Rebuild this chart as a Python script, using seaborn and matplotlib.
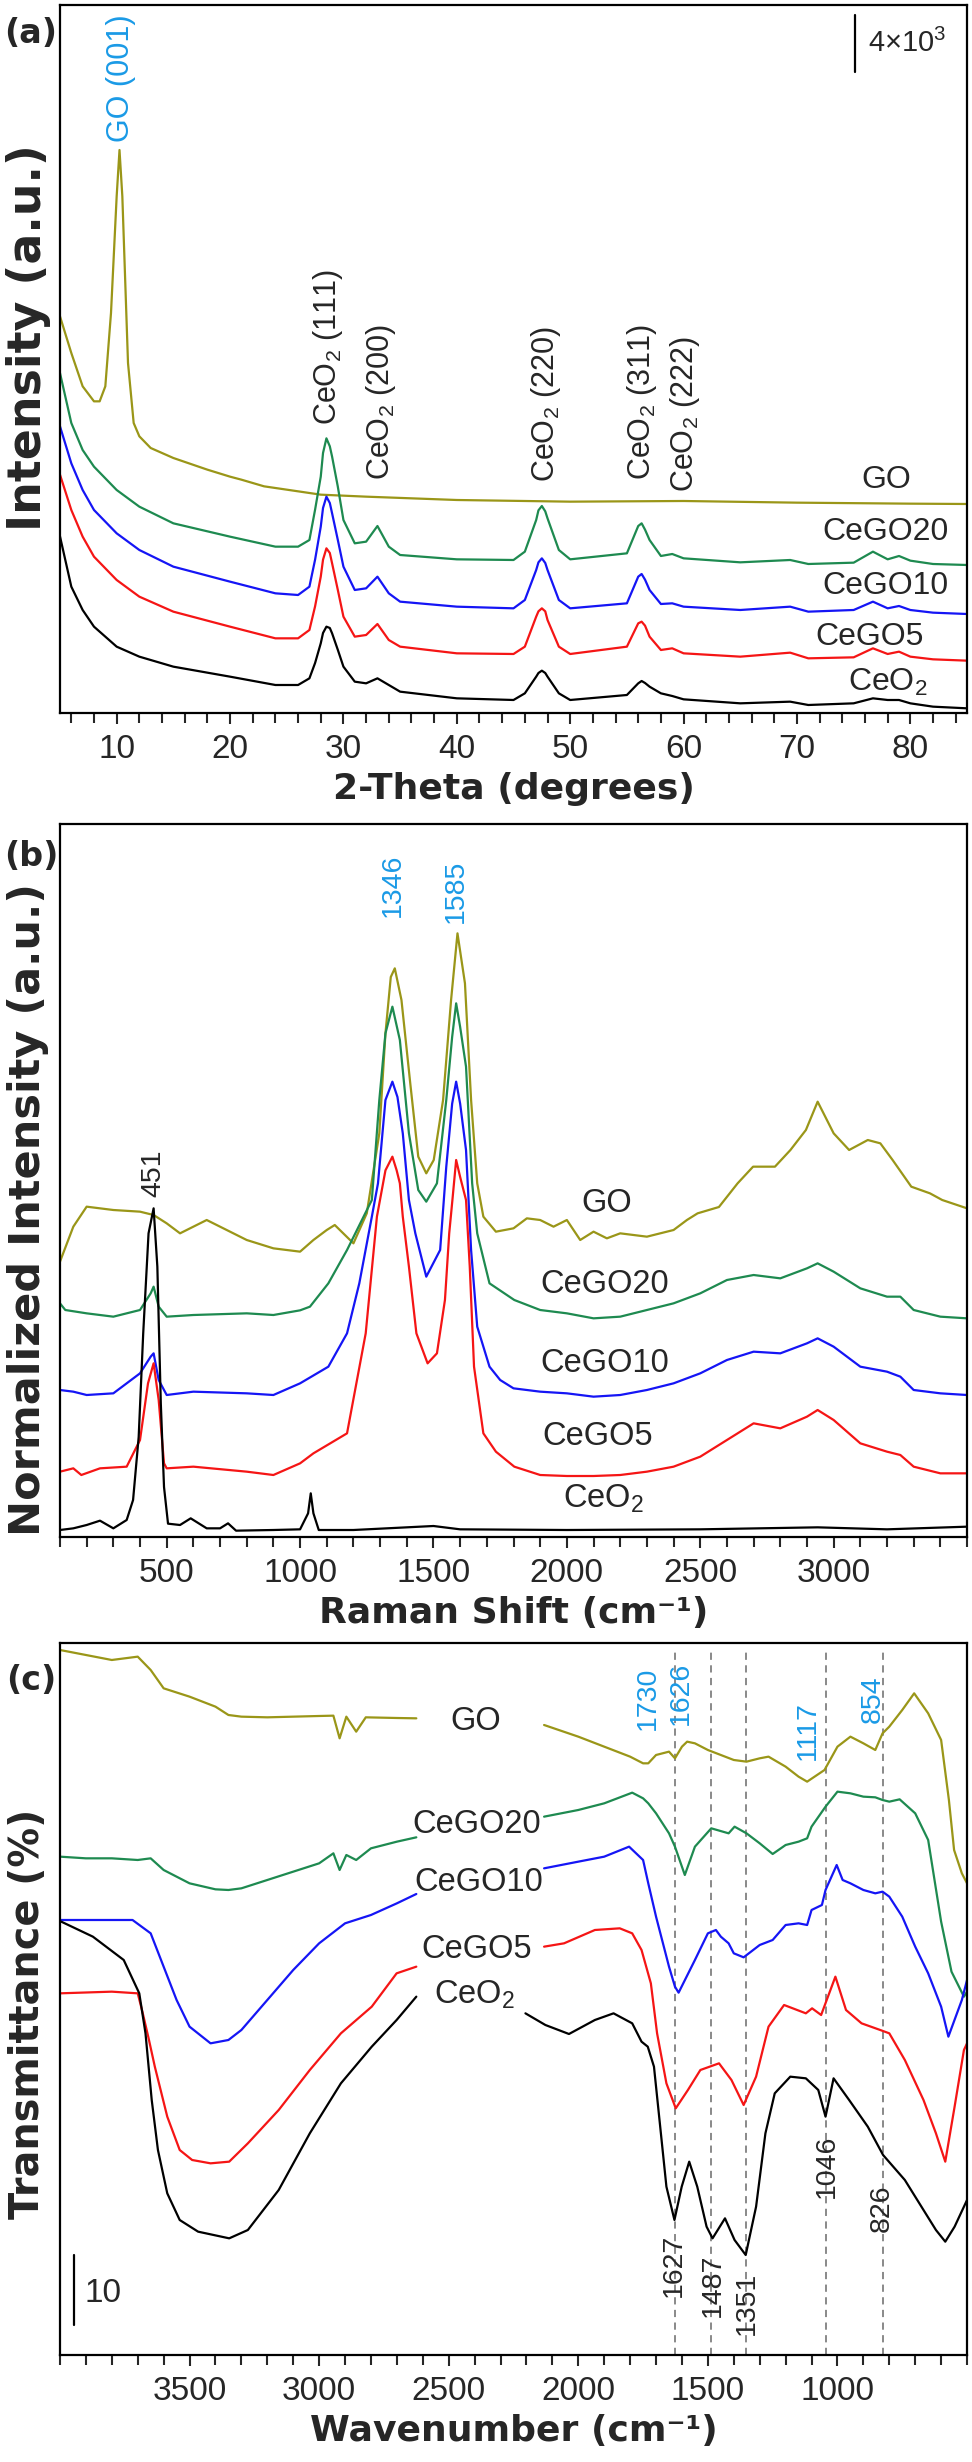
import matplotlib
matplotlib.use('Agg')
import matplotlib.pyplot as plt
from matplotlib.ticker import MultipleLocator, FixedLocator
import pandas as pd
import seaborn as sns

# sample names / colours
samples = ['GO', 'CeGO20', 'CeGO10', 'CeGO5', 'CeO2']
colors = {'GO': '#9a9618', 'CeGO20': '#1e8a50', 'CeGO10': '#1515f5',
          'CeGO5': '#f51515', 'CeO2': '#000000'}
label_blue = '#1a9ae6'

# ---- (a) XRD, intensity in a.u. ----
xrd_theta = [5, 6, 7, 8, 10, 12, 15, 20, 24, 26, 27, 27.5, 28, 28.2, 28.5, 28.8, 29, 29.5, 30, 31, 32, 33,
             34, 35, 40, 45, 46, 47, 47.2, 47.5, 47.8, 48, 49, 50, 55, 56, 56.3, 56.6, 57, 58, 59, 60, 65,
             69.4, 71, 75, 76.7, 78, 79, 80, 82, 85]
xrd_ceo2 = [530, 379, 309, 259, 199, 169, 139, 109, 84, 84, 104, 150, 209, 240, 259, 255, 239, 190, 139, 94, 89, 104,
            84, 64, 44, 39, 59, 109, 120, 127, 120, 109, 59, 39, 54, 89, 96, 90, 79, 59, 51, 41, 29,
            34, 24, 29, 44, 39, 39, 29, 19, 14]
xrd_cego5 = [715, 609, 529, 469, 399, 349, 304, 259, 224, 224, 249, 320, 409, 460, 494, 480, 449, 370, 289, 229, 234, 267,
             219, 199, 179, 177, 199, 289, 305, 314, 305, 279, 199, 177, 199, 269, 274, 262, 229, 189, 194, 179, 169,
             181, 164, 167, 194, 177, 184, 169, 161, 157]
xrd_cego10 = [860, 749, 669, 609, 539, 489, 439, 394, 359, 354, 379, 460, 559, 615, 649, 630, 599, 520, 439, 369, 374, 409,
              359, 334, 319, 314, 339, 429, 452, 464, 450, 429, 339, 314, 329, 409, 417, 400, 369, 327, 329, 319, 309,
              319, 304, 309, 334, 314, 321, 309, 301, 297]
xrd_cego20 = [1020, 870, 789, 739, 669, 619, 569, 529, 499, 499, 519, 610, 709, 780, 824, 800, 769, 680, 579, 509, 514, 561,
              499, 474, 461, 459, 484, 579, 608, 621, 605, 584, 489, 461, 479, 561, 569, 550, 519, 471, 477, 464, 452,
              459, 447, 451, 484, 461, 471, 457, 447, 444]
xrd_go_theta = [5, 6, 7, 8, 8.5, 9, 9.5, 10, 10.25, 10.5, 11, 11.5, 12, 13, 15, 18, 20, 21, 23, 25,
                28, 32, 40, 50, 60, 70, 80, 85]
xrd_go = [1190, 1080, 980, 935, 935, 980, 1200, 1550, 1689, 1550, 1050, 870, 830, 795, 765, 730, 709, 700, 680, 670,
          655, 649, 639, 634, 636, 631, 628, 627]

# ---- (b) Raman, normalized intensity (a.u.) ----
raman_ceo2_x = [100, 150, 200, 250, 300, 350, 374, 395, 412, 432, 451, 465, 478, 490, 505, 550, 590, 650, 700, 730,
                760, 900, 1000, 1030, 1040, 1050, 1070, 1200, 1500, 1600, 2000, 2500, 2940, 3200, 3500]
raman_ceo2_y = [21, 26, 36, 49, 26, 51, 111, 300, 611, 911, 986, 811, 400, 150, 40, 36, 56, 26, 26, 41,
                19, 21, 23, 71, 131, 71, 21, 21, 33, 23, 21, 23, 29, 23, 31]
raman_cego5_x = [100, 150, 180, 250, 350, 400, 430, 451, 470, 490, 500, 600, 800, 900, 1000, 1050, 1176, 1246,
                 1288, 1320, 1346, 1362, 1374, 1385, 1408, 1436, 1478, 1513, 1543, 1559, 1571, 1585, 1600, 1622,
                 1636, 1652, 1687, 1734, 1803, 1900, 2000, 2100, 2200, 2300, 2400, 2500, 2600, 2700, 2800, 2900,
                 2940, 3000, 3100, 3200, 3250, 3300, 3400, 3500]
raman_cego5_y = [196, 206, 186, 206, 211, 291, 461, 521, 411, 221, 206, 211, 196, 186, 221, 251, 311, 611,
                 961, 1100, 1141, 1100, 1061, 961, 811, 611, 521, 551, 711, 911, 1011, 1131, 1080, 1011,
                 811, 511, 311, 256, 211, 186, 183, 183, 186, 196, 211, 241, 291, 341, 326, 361,
                 381, 351, 281, 256, 246, 211, 191, 191]
raman_cego10_x = [100, 150, 200, 300, 400, 440, 451, 470, 500, 600, 800, 900, 1000, 1106, 1176, 1222, 1269, 1292,
                  1320, 1346, 1365, 1385, 1408, 1432, 1473, 1525, 1548, 1570, 1585, 1600, 1622, 1641, 1664, 1710,
                  1750, 1800, 1900, 2000, 2100, 2200, 2300, 2400, 2500, 2600, 2700, 2800, 2900, 2940, 3000, 3100,
                  3200, 3250, 3300, 3400, 3500]
raman_cego10_y = [441, 436, 426, 431, 491, 541, 551, 471, 426, 436, 431, 426, 461, 511, 611, 761, 961, 1061,
                  1311, 1366, 1320, 1211, 1011, 911, 781, 861, 1111, 1300, 1366, 1300, 1161, 861, 631, 511,
                  471, 446, 436, 431, 421, 426, 441, 461, 491, 531, 556, 551, 581, 596, 571, 511,
                  496, 481, 441, 431, 426]
raman_cego20_x = [100, 120, 200, 300, 400, 440, 451, 470, 500, 600, 800, 900, 1000, 1037, 1106, 1176, 1269, 1297,
                  1320, 1346, 1374, 1408, 1443, 1473, 1513, 1548, 1570, 1585, 1600, 1622, 1645, 1664, 1710, 1803,
                  1900, 2000, 2100, 2200, 2300, 2400, 2500, 2600, 2700, 2800, 2900, 2940, 3000, 3100, 3200, 3250,
                  3300, 3400, 3500]
raman_cego20_y = [701, 681, 671, 661, 681, 731, 751, 691, 661, 666, 671, 666, 680, 691, 761, 861, 1011, 1311,
                  1511, 1591, 1491, 1211, 1041, 1006, 1061, 1311, 1500, 1601, 1530, 1411, 1061, 911, 761, 711,
                  681, 671, 656, 661, 681, 701, 731, 771, 786, 776, 806, 821, 796, 746, 721, 721,
                  681, 661, 656]
raman_go_x = [100, 150, 200, 300, 400, 451, 500, 550, 600, 650, 700, 750, 800, 900, 1000, 1050, 1100, 1130, 1200,
              1250, 1297, 1320, 1340, 1355, 1380, 1413, 1443, 1473, 1501, 1536, 1566, 1590, 1618, 1641, 1664, 1687,
              1734, 1800, 1850, 1900, 1950, 2000, 2050, 2100, 2150, 2200, 2300, 2400, 2450, 2490, 2570, 2640,
              2698, 2780, 2838, 2896, 2940, 3000, 3058, 3128, 3175, 3221, 3291, 3361, 3407, 3500]
raman_go_y = [826, 931, 991, 981, 976, 966, 941, 911, 931, 951, 931, 911, 891, 866, 856, 891, 921, 936, 881,
              971, 1211, 1511, 1680, 1706, 1611, 1361, 1141, 1091, 1131, 1311, 1611, 1811, 1661, 1311, 1061, 961,
              916, 926, 956, 951, 931, 951, 891, 916, 896, 911, 901, 921, 951, 971, 990, 1061,
              1111, 1111, 1161, 1221, 1306, 1211, 1161, 1191, 1181, 1131, 1051, 1031, 1011, 986]

# ---- (c) FTIR, transmittance (a.u.), two segments each (gap behind labels) ----
ftir_go_x1 = [4000, 3900, 3800, 3700, 3650, 3600, 3500, 3400, 3350, 3300, 3200, 3000, 2945, 2921, 2895, 2857,
              2820, 2700, 2625]
ftir_go_y1 = [2115, 2100, 2085, 2095, 2055, 2000, 1975, 1945, 1920, 1915, 1913, 1917, 1918, 1850, 1915, 1870,
              1913, 1911, 1910]
ftir_go_x2 = [2132, 2000, 1900, 1800, 1750, 1730, 1700, 1650, 1627, 1600, 1580, 1550, 1500, 1450, 1400, 1351,
              1300, 1266, 1200, 1150, 1117, 1050, 1000, 950, 900, 854, 826, 800, 750, 704, 650, 600, 570, 550,
              520, 500]
ftir_go_y2 = [1890, 1855, 1825, 1795, 1775, 1775, 1800, 1810, 1790, 1825, 1840, 1835, 1815, 1800, 1785, 1780,
              1790, 1795, 1765, 1735, 1720, 1755, 1825, 1855, 1835, 1815, 1865, 1885, 1935, 1985, 1925, 1845,
              1665, 1515, 1445, 1415]
ftir_cego20_x1 = [4000, 3900, 3800, 3700, 3650, 3600, 3500, 3400, 3350, 3300, 3200, 3000, 2945, 2921, 2895,
                  2857, 2800, 2700, 2625]
ftir_cego20_y1 = [1495, 1490, 1490, 1485, 1490, 1455, 1415, 1397, 1395, 1400, 1425, 1475, 1505, 1455, 1500,
                  1485, 1520, 1540, 1553]
ftir_cego20_x2 = [2132, 2000, 1900, 1792, 1750, 1730, 1700, 1650, 1627, 1589, 1550, 1487, 1420, 1397, 1351,
                  1300, 1250, 1200, 1150, 1117, 1100, 1046, 1000, 950, 900, 854, 826, 800, 760, 700, 650, 600,
                  560, 512, 500]
ftir_cego20_y2 = [1615, 1635, 1655, 1687, 1670, 1655, 1625, 1565, 1525, 1440, 1525, 1580, 1565, 1585, 1565,
                  1535, 1503, 1530, 1540, 1550, 1585, 1645, 1690, 1685, 1675, 1673, 1665, 1660, 1667, 1625, 1545,
                  1300, 1150, 1075, 1090]
ftir_cego10_x1 = [4000, 3720, 3650, 3600, 3550, 3500, 3419, 3350, 3300, 3200, 3100, 3000, 2900, 2800, 2700, 2625]
ftir_cego10_y1 = [1305, 1305, 1265, 1165, 1065, 985, 935, 945, 975, 1065, 1155, 1235, 1295, 1320, 1355, 1383]
ftir_cego10_x2 = [2132, 2000, 1900, 1804, 1750, 1730, 1700, 1650, 1627, 1613, 1550, 1500, 1469, 1450, 1420,
                  1400, 1362, 1300, 1250, 1200, 1150, 1117, 1100, 1060, 1046, 1003, 980, 950, 900, 854, 826,
                  800, 750, 700, 650, 600, 572, 520, 500]
ftir_cego10_y2 = [1460, 1480, 1495, 1525, 1485, 1415, 1315, 1165, 1105, 1087, 1185, 1265, 1275, 1255, 1235,
                  1205, 1193, 1230, 1245, 1290, 1295, 1290, 1335, 1350, 1395, 1470, 1425, 1415, 1395, 1385, 1390,
                  1375, 1315, 1225, 1145, 1045, 955, 1065, 1125]
ftir_cego5_x1 = [4000, 3800, 3700, 3682, 3658, 3634, 3610, 3586, 3538, 3490, 3419, 3347, 3275, 3156, 3036,
                 2916, 2797, 2701, 2625]
ftir_cego5_y1 = [1085, 1090, 1085, 1030, 950, 865, 790, 715, 615, 585, 575, 580, 635, 735, 855, 965, 1045,
                 1145, 1165]
ftir_cego5_x2 = [2132, 2055, 1936, 1840, 1792, 1756, 1720, 1696, 1660, 1624, 1577, 1529, 1457, 1409, 1362,
                 1314, 1266, 1206, 1122, 1098, 1063, 1008, 967, 907, 835, 800, 740, 668, 620, 584, 548, 512, 500]
ftir_cego5_y2 = [1225, 1235, 1275, 1280, 1265, 1215, 1115, 965, 815, 740, 795, 855, 875, 825, 750,
                 835, 985, 1050, 1025, 1040, 1020, 1135, 1035, 995, 975, 965, 885, 765, 665, 580, 745, 915, 935]
ftir_ceo2_x1 = [3995, 3873, 3754, 3694, 3670, 3646, 3622, 3586, 3538, 3467, 3347, 3275, 3156, 3036, 2916,
                2797, 2701, 2625]
ftir_ceo2_y1 = [1300, 1255, 1185, 1085, 965, 765, 615, 485, 405, 370, 350, 375, 495, 665, 815, 925, 1005, 1075]
ftir_ceo2_x2 = [2204, 2127, 2036, 1936, 1864, 1792, 1756, 1732, 1708, 1684, 1660, 1629, 1601, 1572, 1541,
                1505, 1482, 1434, 1397, 1354, 1314, 1278, 1242, 1182, 1122, 1074, 1046, 1015, 955, 883, 824,
                740, 668, 620, 584, 548, 512, 500]
ftir_ceo2_y2 = [1025, 990, 963, 1005, 1025, 995, 940, 925, 865, 685, 505, 405, 505, 580, 505,
                385, 350, 410, 345, 300, 445, 665, 785, 835, 830, 795, 715, 830, 765, 685, 600,
                525, 435, 375, 340, 385, 445, 465]
ftir_marks = [1627, 1487, 1351, 1046, 826]

# tick labels
xrd_ticks = [10, 20, 30, 40, 50, 60, 70, 80]
raman_ticks = [500, 1000, 1500, 2000, 2500, 3000]
ftir_ticks = [3500, 3000, 2500, 2000, 1500, 1000]


def long_table(parts):
    frames = [pd.DataFrame({'x': xs, 'y': ys, 'sample': s, 'seg': seg}) for s, seg, xs, ys in parts]
    return pd.concat(frames, ignore_index=True)


xrd = long_table([('GO', 0, xrd_go_theta, xrd_go), ('CeGO20', 0, xrd_theta, xrd_cego20),
                  ('CeGO10', 0, xrd_theta, xrd_cego10), ('CeGO5', 0, xrd_theta, xrd_cego5),
                  ('CeO2', 0, xrd_theta, xrd_ceo2)])
raman = long_table([('GO', 0, raman_go_x, raman_go_y), ('CeGO20', 0, raman_cego20_x, raman_cego20_y),
                    ('CeGO10', 0, raman_cego10_x, raman_cego10_y), ('CeGO5', 0, raman_cego5_x, raman_cego5_y),
                    ('CeO2', 0, raman_ceo2_x, raman_ceo2_y)])
ftir = long_table([('GO', 0, ftir_go_x1, ftir_go_y1), ('GO', 1, ftir_go_x2, ftir_go_y2),
                   ('CeGO20', 0, ftir_cego20_x1, ftir_cego20_y1), ('CeGO20', 1, ftir_cego20_x2, ftir_cego20_y2),
                   ('CeGO10', 0, ftir_cego10_x1, ftir_cego10_y1), ('CeGO10', 1, ftir_cego10_x2, ftir_cego10_y2),
                   ('CeGO5', 0, ftir_cego5_x1, ftir_cego5_y1), ('CeGO5', 1, ftir_cego5_x2, ftir_cego5_y2),
                   ('CeO2', 0, ftir_ceo2_x1, ftir_ceo2_y1), ('CeO2', 1, ftir_ceo2_x2, ftir_ceo2_y2)])

sns.set_style('white')
plt.rcParams['font.family'] = ['Liberation Sans', 'DejaVu Sans']
plt.rcParams['mathtext.default'] = 'regular'
plt.rcParams['axes.linewidth'] = 1.6

fig = plt.figure(figsize=(9.72, 24.62), dpi=100)
ax_a = fig.add_axes([0.0617, 0.7104, 0.9332, 0.28757])
ax_b = fig.add_axes([0.0617, 0.37571, 0.9332, 0.2896])
ax_c = fig.add_axes([0.0617, 0.04346, 0.9332, 0.2892])

bold = dict(family='DejaVu Sans', weight='bold')


def draw(ax, df, xlabel, ylabel, ysize, ylab_y, letter, letter_y):
    sns.lineplot(data=df, x='x', y='y', hue='sample', units='seg', estimator=None, sort=False,
                 hue_order=samples, palette=colors, legend=False, lw=1.6, ax=ax)
    ax.set_yticks([])
    ax.tick_params(axis='x', which='both', direction='out', bottom=True, width=1.5, labelsize=24, pad=7)
    ax.tick_params(axis='x', which='major', length=8)
    ax.tick_params(axis='x', which='minor', length=7)
    ax.set_xlabel(xlabel, fontsize=26, labelpad=5, **bold)
    ax.set_ylabel(ylabel, fontsize=ysize, **bold)
    ax.yaxis.label.set_va('center')
    ax.yaxis.set_label_coords(-0.035, ylab_y)
    ax.text(-0.032, letter_y, letter, transform=ax.transAxes, ha='center', va='center',
            fontsize=24, **bold)
    for sp in ax.spines.values():
        sp.set_color('black')


# (a)
draw(ax_a, xrd, '2-Theta (degrees)', 'Intensity (a.u.)', 33, 0.53, '(a)', 0.96)
ax_a.set_xlim(5, 85)
ax_a.set_ylim(0, 2124)
ax_a.xaxis.set_major_locator(FixedLocator(xrd_ticks))
ax_a.xaxis.set_minor_locator(MultipleLocator(2))
ax_a.text(10.4, 1713, 'GO (001)', rotation=90, ha='center', va='bottom', color=label_blue, fontsize=22)
for x, y, t in [(28.6, 864, '(111)'), (33.3, 699, '(200)'), (47.9, 693, '(220)'),
                (56.3, 699, '(311)'), (60.1, 663, '(222)')]:
    ax_a.text(x, y, 'CeO$_2$ ' + t, rotation=90, ha='center', va='bottom', fontsize=22)
for x, y, t in [(77.9, 699, 'GO'), (77.8, 543, 'CeGO20'), (77.8, 381, 'CeGO10'),
                (76.4, 228, 'CeGO5'), (78.0, 93, 'CeO$_2$')]:
    ax_a.text(x, y, t, ha='center', va='center', fontsize=23)
ax_a.plot([75.1, 75.1], [1923, 2094], color='black', lw=1.6)
ax_a.text(76.3, 2010, '4×10$^3$', ha='left', va='center', fontsize=21)

# (b)
draw(ax_b, raman, 'Raman Shift (cm⁻¹)', 'Normalized Intensity (a.u.)', 31, 0.46, '(b)', 0.954)
ax_b.set_xlim(100, 3500)
ax_b.set_ylim(0, 2139)
ax_b.xaxis.set_major_locator(FixedLocator(raman_ticks))
ax_b.xaxis.set_minor_locator(MultipleLocator(100))
ax_b.text(1346, 1860, '1346', rotation=90, ha='center', va='bottom', color=label_blue, fontsize=20.5)
ax_b.text(1585, 1842, '1585', rotation=90, ha='center', va='bottom', color=label_blue, fontsize=20.5)
ax_b.text(451, 1020, '451', rotation=90, ha='center', va='bottom', fontsize=20.5)
for x, y, t in [(2151, 1002, 'GO'), (2143, 759, 'CeGO20'), (2143, 522, 'CeGO10'),
                (2117, 303, 'CeGO5'), (2136, 115, 'CeO$_2$')]:
    ax_b.text(x, y, t, ha='center', va='center', fontsize=23.5)

# (c)
draw(ax_c, ftir, 'Wavenumber (cm⁻¹)', 'Transmittance (%)', 28.6, 0.479, '(c)', 0.948)
ax_c.set_xlim(4000, 500)
ax_c.set_ylim(0, 2136)
ax_c.xaxis.set_major_locator(FixedLocator(ftir_ticks))
ax_c.xaxis.set_minor_locator(MultipleLocator(100))
for m in ftir_marks:
    ax_c.axvline(m, ymin=0, ymax=0.987, color='#808080', lw=1.3, ls=(0, (4, 3)), zorder=0)
for x, y, t in [(1731, 1875, '1730'), (1605, 1890, '1626'), (1113, 1785, '1117'), (863, 1896, '854')]:
    ax_c.text(x, y, t, rotation=90, ha='center', va='bottom', color=label_blue, fontsize=20.5)
for x, y, t in [(1631, 174, '1627'), (1480, 114, '1487'), (1349, 60, '1351'),
                (1040, 471, '1046'), (828, 369, '826')]:
    ax_c.text(x, y, t, rotation=90, ha='center', va='bottom', fontsize=20.5)
for x, y, t in [(2395, 1899, 'GO'), (2391, 1590, 'CeGO20'), (2383, 1416, 'CeGO10'),
                (2391, 1215, 'CeGO5'), (2402, 1080, 'CeO$_2$')]:
    ax_c.text(x, y, t, ha='center', va='center', fontsize=23.5)
ax_c.plot([3946, 3946], [90, 300], color='black', lw=1.6)
ax_c.text(3907, 186, '10', ha='left', va='center', fontsize=24)

fig.savefig('out.png', dpi=100)
